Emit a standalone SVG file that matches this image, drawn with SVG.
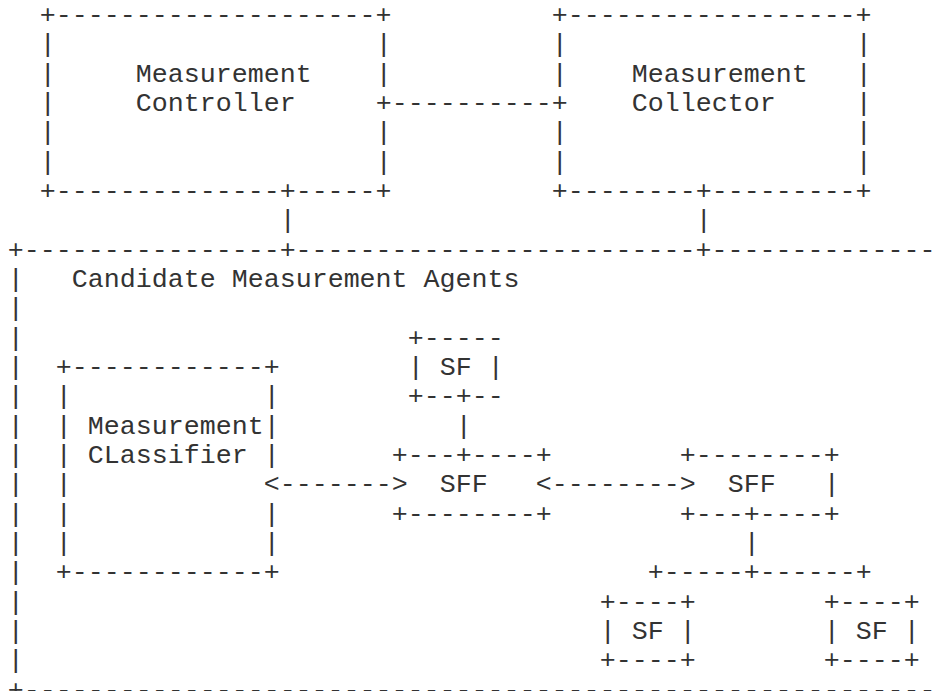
<svg xmlns="http://www.w3.org/2000/svg" width="940" height="691" viewBox="0 0 940 691">
<style>
.t { font-family: "Liberation Mono", "Courier New", "DejaVu Sans Mono", monospace; font-size: 26.667px; fill: #333; }
</style>
<rect x="0" y="0" width="940" height="691" fill="#ffffff"/>
<g id="measurement-controller" class="t">
<text x="39.7" y="23">+--------------------+</text>
<text x="39.7" y="52.33">|</text><text x="375.7" y="52.33">|</text>
<text x="39.7" y="81.66">|</text><text x="135.7" y="81.66">Measurement</text><text x="375.7" y="81.66">|</text>
<text x="39.7" y="111">|</text><text x="135.7" y="111">Controller</text><text x="375.7" y="111">+</text>
<text x="39.7" y="140.3">|</text><text x="375.7" y="140.3">|</text>
<text x="39.7" y="169.65">|</text><text x="375.7" y="169.65">|</text>
<text x="39.7" y="199">+--------------+-----+</text>
</g>
<g id="measurement-collector" class="t">
<text x="551.7" y="23">+------------------+</text>
<text x="551.7" y="52.33">|</text><text x="855.7" y="52.33">|</text>
<text x="551.7" y="81.66">|</text><text x="631.7" y="81.66">Measurement</text><text x="855.7" y="81.66">|</text>
<text x="551.7" y="111">+</text><text x="631.7" y="111">Collector</text><text x="855.7" y="111">|</text>
<text x="551.7" y="140.3">|</text><text x="855.7" y="140.3">|</text>
<text x="551.7" y="169.65">|</text><text x="855.7" y="169.65">|</text>
<text x="551.7" y="199">+--------+---------+</text>
</g>
<g id="candidate-measurement-agents" class="t">
<text x="7.7" y="257.6">+----------------+-------------------------+--------------</text>
<text x="7.7" y="287">|</text><text x="71.7" y="287">Candidate Measurement Agents</text>
<text x="7.7" y="316.3">|</text>
<text x="7.7" y="345.6">|</text>
<text x="7.7" y="375">|</text>
<text x="7.7" y="404.3">|</text>
<text x="7.7" y="433.6">|</text>
<text x="7.7" y="463">|</text>
<text x="7.7" y="492.3">|</text>
<text x="7.7" y="521.6">|</text>
<text x="7.7" y="551">|</text>
<text x="7.7" y="580.3">|</text>
<text x="7.7" y="609.6">|</text>
<text x="7.7" y="639">|</text>
<text x="7.7" y="668.3">|</text>
<text x="7.7" y="697.6">+---------------------------------------------------------</text>
</g>
<g id="measurement-classifier" class="t">
<text x="55.7" y="375">+------------+</text>
<text x="55.7" y="404.3">|</text><text x="263.7" y="404.3">|</text>
<text x="55.7" y="433.6">|</text><text x="87.7" y="433.6">Measurement|</text>
<text x="55.7" y="463">|</text><text x="87.7" y="463">CLassifier</text><text x="263.7" y="463">|</text>
<text x="55.7" y="492.3">|</text>
<text x="55.7" y="521.6">|</text><text x="263.7" y="521.6">|</text>
<text x="55.7" y="551">|</text><text x="263.7" y="551">|</text>
<text x="55.7" y="580.3">+------------+</text>
</g>
<g id="sf-top" class="t">
<text x="407.7" y="345.6">+-----</text>
<text x="407.7" y="375">|</text><text x="439.7" y="375">SF</text><text x="487.7" y="375">|</text>
<text x="407.7" y="404.3">+--+--</text>
</g>
<g id="sff-left" class="t">
<text x="391.7" y="463">+---+----+</text>
<text x="439.7" y="492.3">SFF</text>
<text x="391.7" y="521.6">+--------+</text>
</g>
<g id="sff-right" class="t">
<text x="679.7" y="463">+--------+</text>
<text x="727.7" y="492.3">SFF</text><text x="823.7" y="492.3">|</text>
<text x="679.7" y="521.6">+---+----+</text>
</g>
<g id="sf-bottom-left" class="t">
<text x="599.7" y="609.6">+----+</text>
<text x="599.7" y="639">|</text><text x="631.7" y="639">SF</text><text x="679.7" y="639">|</text>
<text x="599.7" y="668.3">+----+</text>
</g>
<g id="sf-bottom-right" class="t">
<text x="823.7" y="609.6">+----+</text>
<text x="823.7" y="639">|</text><text x="855.7" y="639">SF</text><text x="903.7" y="639">|</text>
<text x="823.7" y="668.3">+----+</text>
</g>
<g id="connectors" class="t">
<text x="391.7" y="111">----------</text>
<text x="279.7" y="228.3">|</text>
<text x="695.7" y="228.3">|</text>
<text x="455.7" y="433.6">|</text>
<text x="263.7" y="492.3">&lt;-------&gt;</text>
<text x="535.7" y="492.3">&lt;--------&gt;</text>
<text x="743.7" y="551">|</text>
<text x="647.7" y="580.3">+-----+------+</text>
</g>
</svg>
